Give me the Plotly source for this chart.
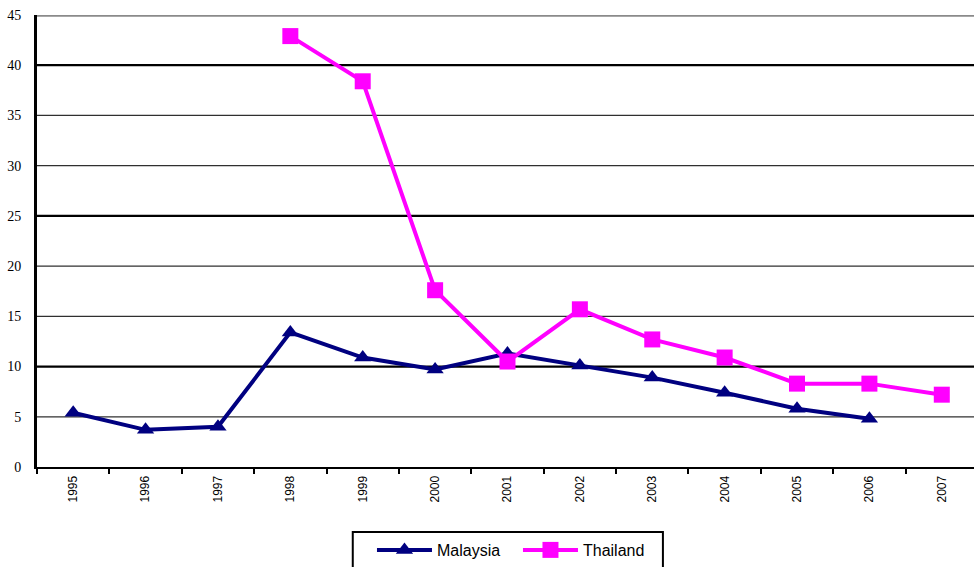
import plotly.graph_objects as go

years = ["1995", "1996", "1997", "1998", "1999", "2000", "2001",
         "2002", "2003", "2004", "2005", "2006", "2007"]
malaysia = [5.4, 3.7, 4.0, 13.4, 10.9, 9.7, 11.3, 10.1, 8.9, 7.4, 5.8, 4.8, None]
thailand = [None, None, None, 42.9, 38.4, 17.6, 10.5, 15.7, 12.7, 10.9, 8.3, 8.3, 7.2]

y_ticks = [0, 5, 10, 15, 20, 25, 30, 35, 40, 45]
thin_grid = [5, 15, 20, 30, 35]
thick_grid = [10, 25, 40]

fig = go.Figure()

fig.add_trace(go.Scatter(
    x=years, y=malaysia, name="Malaysia", mode="lines+markers",
    line=dict(color="#000080", width=4),
    marker=dict(symbol="triangle-up", size=15, color="#000080"),
))
fig.add_trace(go.Scatter(
    x=years, y=thailand, name="Thailand", mode="lines+markers",
    line=dict(color="#FF00FF", width=4),
    marker=dict(symbol="square", size=16, color="#FF00FF"),
))

shapes = []
for v in thin_grid:
    shapes.append(dict(type="line", xref="paper", yref="y", x0=0, x1=1, y0=v, y1=v,
                       line=dict(color="#303030", width=1.3), layer="below"))
for v in thick_grid:
    shapes.append(dict(type="line", xref="paper", yref="y", x0=0, x1=1, y0=v, y1=v,
                       line=dict(color="#000000", width=2.3), layer="below"))
# grey top border at the axis maximum
shapes.append(dict(type="line", xref="paper", yref="y", x0=0, x1=1, y0=45, y1=45,
                   line=dict(color="#8a8a8a", width=3.5), layer="below"))
# frame around the legend, running off the bottom of the page
shapes.append(dict(type="rect", xref="paper", yref="paper",
                   x0=0.337, x1=0.668, y0=-0.1438, y1=-0.27,
                   line=dict(color="black", width=2), fillcolor="rgba(0,0,0,0)"))

fig.update_layout(
    width=974, height=567,
    margin=dict(l=37, r=0, t=15, b=100, autoexpand=False),
    paper_bgcolor="white", plot_bgcolor="white",
    shapes=shapes,
    showlegend=True,
    legend=dict(
        orientation="h", x=0.3575, y=-0.146, xanchor="left", yanchor="top",
        borderwidth=0, bgcolor="rgba(0,0,0,0)",
        font=dict(family="Arial, Liberation Sans", size=16, color="black"),
        itemwidth=55, entrywidth=76, tracegroupgap=0,
    ),
    xaxis=dict(
        type="category", range=[-0.5, 12.445],
        showgrid=False, showline=True, linecolor="black", linewidth=2,
        ticks="outside", tickson="boundaries", ticklen=5, tickwidth=2, tickcolor="black",
        tickangle=-90, tickfont=dict(family="Arial, Liberation Sans", size=12, color="black"),
        ticklabelstandoff=2,
        zeroline=False,
    ),
    yaxis=dict(
        range=[0, 45], tickvals=y_ticks, showgrid=False,
        showline=True, linecolor="black", linewidth=3,
        ticks="", zeroline=False, ticklabelstandoff=10,
        tickfont=dict(family="Liberation Serif, Times New Roman", size=14, color="black"),
    ),
)

fig.write_html("out.html")
